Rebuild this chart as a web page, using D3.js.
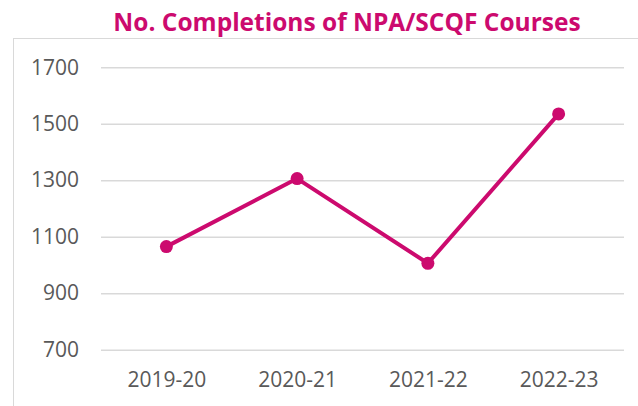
<!DOCTYPE html>
<html>
<head>
<meta charset="utf-8">
<script src="https://cdn.jsdelivr.net/npm/d3@7"></script>
<style>
  body { margin: 0; background: #fff; }
  svg { display: block; }
</style>
</head>
<body>
<div id="chart"></div>
<script>
// Data
var years = ["2019-20", "2020-21", "2021-22", "2022-23"];
var completions = [1065, 1306, 1006, 1535];
var yTicks = [700, 900, 1100, 1300, 1500, 1700];
var chartTitle = "No. Completions of NPA/SCQF Courses";

var CanvasInfo = { width: 638, height: 406 };
var Plot = { left: 101, right: 624, top: 67.3, bottom: 349.7 };
var lineColor = "#cc0a6e";

var svg = d3.select("#chart").append("svg")
    .attr("width", CanvasInfo.width)
    .attr("height", CanvasInfo.height);

// chart frame (cut off by the picture edges)
svg.append("rect")
    .attr("x", 13.5).attr("y", 38.5)
    .attr("width", 700).attr("height", 500)
    .attr("fill", "none")
    .attr("stroke", "#d9d9d9")
    .attr("stroke-width", 1);

// title
svg.append("text")
    .attr("x", 347)
    .attr("y", 31)
    .attr("text-anchor", "middle")
    .style("font-family", "'Open Sans', sans-serif")
    .style("font-weight", "bold")
    .style("font-size", "24.5px")
    .style("fill", lineColor)
    .text(chartTitle);

var x = d3.scalePoint().domain(years).range([Plot.left, Plot.right]).padding(0.5);
var y = d3.scaleLinear().domain([700, 1700]).range([Plot.bottom, Plot.top]);

// y axis with gridlines
var yAxis = svg.append("g")
    .attr("transform", "translate(" + Plot.left + ",0)")
    .call(d3.axisLeft(y)
        .tickValues(yTicks)
        .tickSize(-(Plot.right - Plot.left))
        .tickPadding(22)
        .tickFormat(d3.format("d")));
yAxis.select(".domain").remove();
yAxis.selectAll("line")
    .attr("stroke", "#d9d9d9")
    .attr("stroke-width", 1.5);
yAxis.selectAll("text")
    .style("font-family", "'Open Sans', sans-serif")
    .style("font-size", "21px")
    .style("fill", "#595959");

// x axis labels
var xAxis = svg.append("g")
    .attr("transform", "translate(0," + Plot.bottom + ")")
    .call(d3.axisBottom(x).tickSize(0).tickPadding(22));
xAxis.select(".domain").remove();
xAxis.selectAll("text")
    .style("font-family", "'Open Sans', sans-serif")
    .style("font-size", "21px")
    .style("fill", "#595959");

// line
var line = d3.line()
    .x(function(d, i) { return x(years[i]); })
    .y(function(d) { return y(d); });

svg.append("path")
    .datum(completions)
    .attr("fill", "none")
    .attr("stroke", lineColor)
    .attr("stroke-width", 4)
    .attr("stroke-linejoin", "round")
    .attr("d", line);

svg.selectAll("circle.pt")
    .data(completions)
    .enter().append("circle")
    .attr("class", "pt")
    .attr("cx", function(d, i) { return x(years[i]); })
    .attr("cy", function(d) { return y(d); })
    .attr("r", 6.5)
    .attr("fill", lineColor);
</script>
</body>
</html>
